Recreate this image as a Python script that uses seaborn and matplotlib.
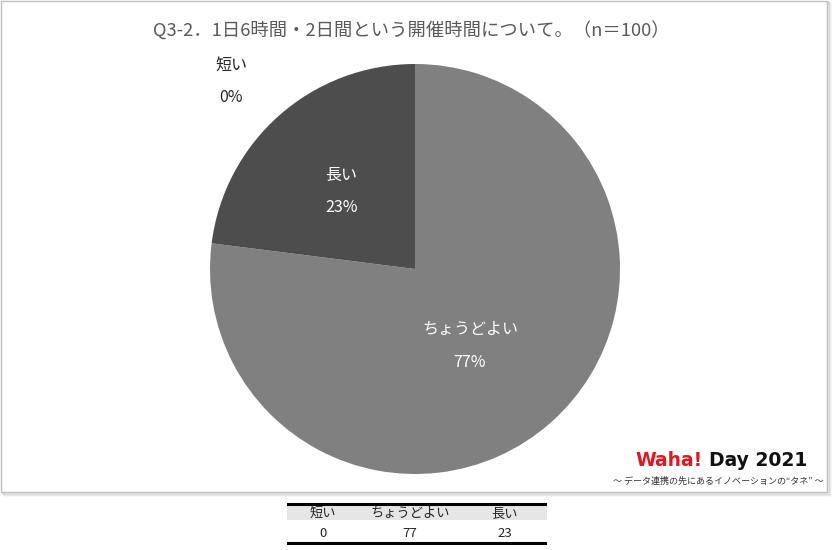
import numpy as np
import matplotlib
matplotlib.use("Agg")
import matplotlib.pyplot as plt
import seaborn as sns
from matplotlib.patches import Rectangle

# DATA
categories = ["短い", "ちょうどよい", "長い"]
values = [0, 77, 23]
title = "Q3-2．1日6時間・2日間という開催時間について。（n＝100）"

sns.set_theme(style="white")
plt.rcParams['font.family'] = ['Noto Sans CJK JP', 'DejaVu Sans']

# slice colours (Excel greys)
colors = ["#bfbfbf", "#808080", "#4d4d4d"]

fig = plt.figure(figsize=(8.36, 5.5), dpi=100)
fig.patch.set_facecolor("white")

# chart frame with a soft shadow
W, H = 836, 550
def fx(px): return px / W
def fy(py): return 1 - py / H
for i, a in enumerate([0.10, 0.07, 0.04]):
    fig.patches.append(Rectangle((fx(2 + i + 1), fy(493 + i + 1)), fx(826), 492 / H,
                                 transform=fig.transFigure, facecolor="none",
                                 edgecolor=(0, 0, 0, a), lw=1.2, zorder=0))
fig.patches.append(Rectangle((fx(1), fy(492)), fx(826), 491 / H, transform=fig.transFigure,
                             facecolor="white", edgecolor="#bfbfbf", lw=1.0, zorder=1))

# pie axes, centre (415, 269), radius 205 px
r = 205
ax = fig.add_axes([fx(415 - r), fy(269 + r), 2 * r / W, 2 * r / H])
ax.set_zorder(3)
wedges, _ = ax.pie(values, colors=colors, startangle=90, counterclock=False,
                   wedgeprops=dict(linewidth=0))
ax.set_xlim(-1, 1)
ax.set_ylim(-1, 1)
ax.set_aspect("equal")
ax.axis("off")

# data labels: (radius, angle in degrees) of label centre
label_pos = {"短い": (1.28, 134.4), "ちょうどよい": (0.46, -54.5), "長い": (0.52, 133.5)}
label_col = {"短い": "#262626", "ちょうどよい": "white", "長い": "white"}
total = sum(values)
for cat, v in zip(categories, values):
    rr, ang = label_pos[cat]
    x, y = rr * np.cos(np.radians(ang)), rr * np.sin(np.radians(ang))
    ax.text(x, y, f"{cat}\n{round(100 * v / total)}%", ha="center", va="center",
            fontsize=11.5, color=label_col[cat], linespacing=2.2, clip_on=False)

fig.text(fx(411), fy(30), title, ha="center", va="center", fontsize=13.2, color="#595959",
         zorder=4)

# logo
fig.text(fx(703), fy(461), "Waha!", ha="right", va="center", fontsize=13.5,
         fontweight="bold", color="#e8141e", family=['DejaVu Sans'], zorder=4)
fig.text(fx(709), fy(461), "Day 2021", ha="left", va="center", fontsize=13.5,
         fontweight="bold", color="#111111", family=['DejaVu Sans'], zorder=4)
fig.text(fx(718), fy(481), "～ データ連携の先にあるイノベーションの\u201cタネ\u201d ～",
         ha="center", va="center", fontsize=6.5, color="#333333", zorder=4)

# data table below the chart
tax = fig.add_axes([fx(287), fy(545), 260 / W, 43 / H])
tax.set_zorder(3)
tax.set_xlim(0, 1)
tax.set_ylim(0, 1)
tax.axis("off")
tax.axhspan(0.58, 0.94, color="#e6e6e6", lw=0)
tax.axhline(0.96, color="black", lw=2.2)
tax.axhline(0.05, color="black", lw=2.2)
col_x = [0.138, 0.473, 0.838]
for cx, cat, v in zip(col_x, categories, values):
    tax.text(cx, 0.74, cat, ha="center", va="center", fontsize=9.5, color="#222222")
    tax.text(cx, 0.27, str(v), ha="center", va="center", fontsize=9.5, color="#222222")

fig.savefig("out.png", dpi=100)
